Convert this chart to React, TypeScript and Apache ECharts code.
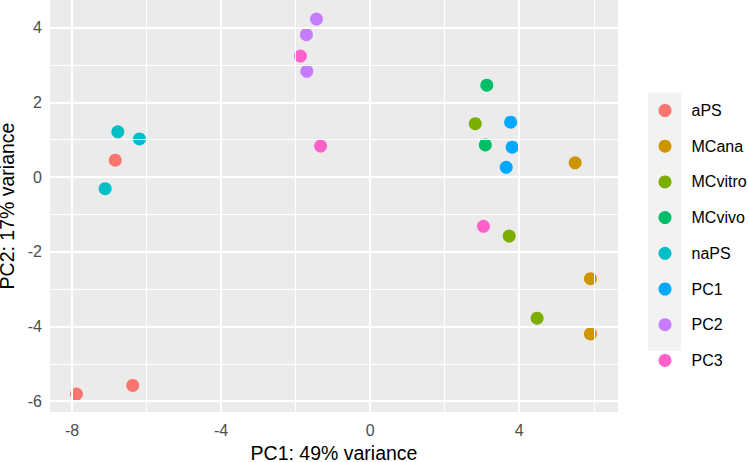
import React, { useEffect, useRef } from "react";
import * as echarts from "echarts";

const groups = ["aPS", "MCana", "MCvitro", "MCvivo", "naPS", "PC1", "PC2", "PC3"];
const colors = ["#F8766D", "#CD9600", "#7CAE00", "#00BE67", "#00BFC4", "#00A9FF", "#C77CFF", "#FF61CC"];

const aPS = [[-7.88, -5.81], [-6.37, -5.58], [-6.84, 0.45]];
const MCana = [[5.5, 0.38], [5.91, -2.72], [5.91, -4.2]];
const MCvitro = [[2.82, 1.43], [3.73, -1.58], [4.48, -3.78]];
const MCvivo = [[3.13, 2.46], [3.09, 0.86]];
const naPS = [[-6.77, 1.21], [-6.19, 1.02], [-7.11, -0.31]];
const PC1 = [[3.77, 1.47], [3.81, 0.8], [3.65, 0.26]];
const PC2 = [[-1.44, 4.23], [-1.71, 3.81], [-1.7, 2.83]];
const PC3 = [[-1.87, 3.24], [-1.33, 0.83], [3.04, -1.32]];
const groupData = [aPS, MCana, MCvitro, MCvivo, naPS, PC1, PC2, PC3];

const xMajor = [-8, -4, 0, 4];
const xMinor = [-6, -2, 2, 6];
const yMajor = [-6, -4, -2, 0, 2, 4];
const yMinor = [-5, -3, -1, 1, 3];
const xRange = [-8.59, 6.65];
const yRange = [-6.29, 4.74];

const FONT = "'Liberation Sans', Arial, sans-serif";

export default function App() {
  const ref = useRef<HTMLDivElement>(null);
  useEffect(() => {
    if (!ref.current) return;
    const chart = echarts.init(ref.current, undefined, { renderer: "svg" });
    const gridLines = [
      ...xMinor.map((v) => ({ xAxis: v, lineStyle: { width: 1 } })),
      ...yMinor.map((v) => ({ yAxis: v, lineStyle: { width: 1 } })),
      ...xMajor.map((v) => ({ xAxis: v, lineStyle: { width: 2 } })),
      ...yMajor.map((v) => ({ yAxis: v, lineStyle: { width: 2 } })),
    ];
    const option: any = {
      animation: false,
      textStyle: { fontFamily: FONT },
      grid: {
        left: 50,
        right: 130,
        top: 0,
        bottom: 50,
        containLabel: false,
        outerBoundsMode: "none",
        show: true,
        backgroundColor: "#EBEBEB",
        borderWidth: 0,
      },
      xAxis: {
        type: "value",
        min: xRange[0],
        max: xRange[1],
        name: "PC1: 49% variance",
        nameLocation: "middle",
        nameGap: 28,
        nameTextStyle: { fontSize: 19.5, lineHeight: 20, color: "#000000", fontFamily: FONT },
        axisLine: { show: false },
        axisTick: { show: true, customValues: xMajor, length: 5, lineStyle: { color: "#333333", width: 1 } },
        axisLabel: { customValues: xMajor, fontSize: 16, color: "#4D4D4D", margin: 10, fontFamily: FONT },
        splitLine: { show: false },
      },
      yAxis: {
        type: "value",
        min: yRange[0],
        max: yRange[1],
        name: "PC2: 17% variance",
        nameLocation: "middle",
        nameGap: 30,
        nameTextStyle: { fontSize: 19.5, lineHeight: 18, color: "#000000", fontFamily: FONT },
        axisLine: { show: false },
        axisTick: { show: true, customValues: yMajor, length: 5, lineStyle: { color: "#333333", width: 1 } },
        axisLabel: { customValues: yMajor, fontSize: 16, color: "#4D4D4D", margin: 8, fontFamily: FONT },
        splitLine: { show: false },
      },
      legend: {
        data: groups,
        orient: "vertical",
        left: 658.5,
        top: 102.5,
        padding: 0,
        itemWidth: 13,
        itemHeight: 13,
        itemGap: 19.7,
        icon: "circle",
        textStyle: { fontSize: 16, color: "#000000", lineHeight: 13, padding: [0, 0, 0, 15], fontFamily: FONT },
        selectedMode: false,
      },
      graphic: [
        {
          type: "rect",
          shape: { x: 648, y: 92.5, width: 33, height: 258.5 },
          style: { fill: "#F2F2F2" },
          z: -1,
          silent: true,
        },
      ],
      series: [
        {
          name: "grid",
          type: "scatter",
          data: [],
          z: 1,
          silent: true,
          markLine: {
            silent: true,
            symbol: ["none", "none"],
            label: { show: false },
            lineStyle: { color: "#FFFFFF", type: "solid" },
            emphasis: { disabled: true },
            data: gridLines,
          },
        },
        ...groups.map((g, i) => ({
          name: g,
          type: "scatter",
          z: 3,
          symbol: "circle",
          symbolSize: 13,
          itemStyle: { color: colors[i], opacity: 1 },
          data: groupData[i],
        })),
      ],
    };
    chart.setOption(option);
    return () => chart.dispose();
  }, []);
  return (
    <div
      ref={ref}
      style={{ position: "fixed", left: 0, top: 0, width: 748, height: 462, background: "#FFFFFF" }}
    />
  );
}
